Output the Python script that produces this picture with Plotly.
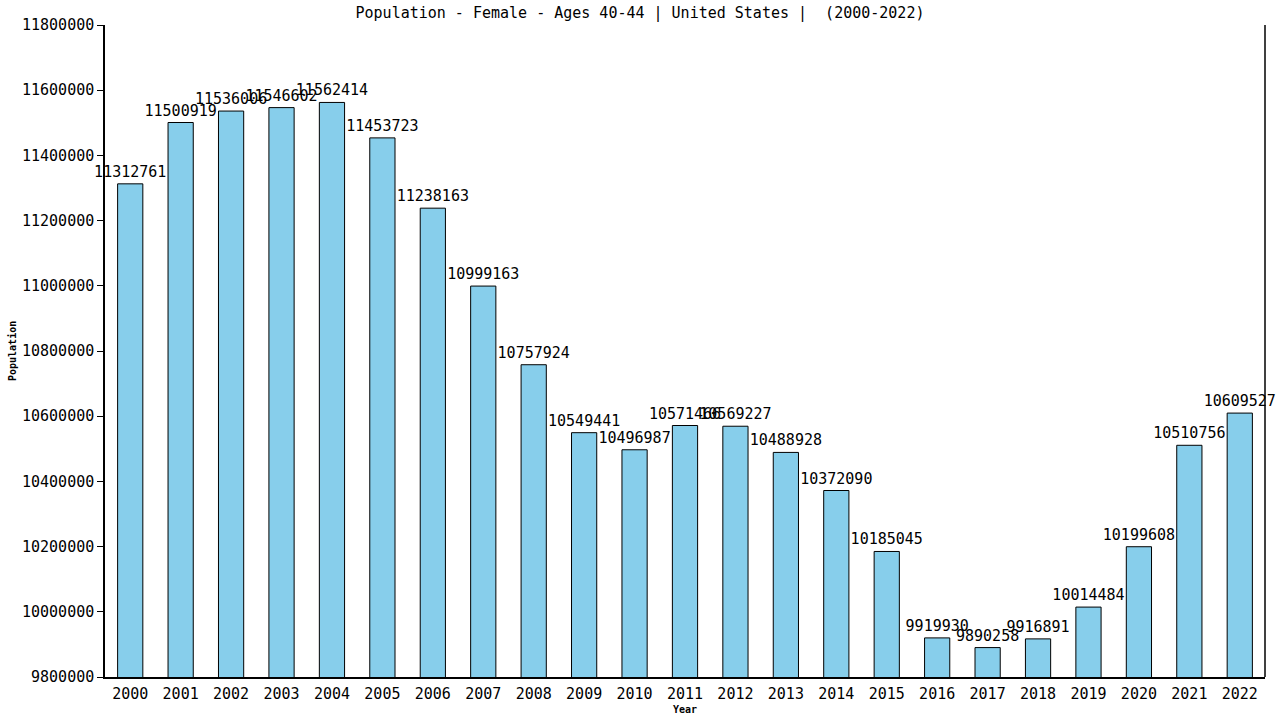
import plotly.graph_objects as go

# data
years = [str(y) for y in range(2000, 2023)]
population = [11312761, 11500919, 11536006, 11546602, 11562414, 11453723,
              11238163, 10999163, 10757924, 10549441, 10496987, 10571466,
              10569227, 10488928, 10372090, 10185045, 9919930, 9890258,
              9916891, 10014484, 10199608, 10510756, 10609527]
y_ticks = list(range(9800000, 11800001, 200000))

font = "DejaVu Sans Mono"

fig = go.Figure(go.Bar(
    x=years, y=population,
    text=[str(v) for v in population],
    textposition="outside", constraintext="none", cliponaxis=False,
    textfont=dict(family=font, size=15, color="black"),
    marker_color="skyblue", marker_line_color="black", marker_line_width=1,
))

fig.update_layout(
    title=dict(text="Population - Female - Ages 40-44 | United States |  (2000-2022)",
               x=0.5, xanchor="center", y=1 - 13 / 720, yanchor="middle",
               font=dict(family=font, size=15, color="black")),
    width=1280, height=720,
    margin=dict(l=105, r=15, t=25, b=43),
    plot_bgcolor="white", paper_bgcolor="white",
    bargap=0.5, showlegend=False,
    font=dict(family=font, color="black"),
)
fig.update_xaxes(showline=True, linecolor="black", linewidth=1.5,
                 ticks="", ticklabelstandoff=2, tickfont=dict(size=15),
                 showgrid=False)
fig.update_yaxes(range=[9800000, 11800000], tickvals=y_ticks,
                 ticktext=[str(t) for t in y_ticks],
                 showline=True, linecolor="black", linewidth=1.5,
                 ticks="outside", ticklen=6, tickcolor="black",
                 tickfont=dict(size=15), showgrid=False, zeroline=False)
# right border line
fig.add_shape(type="line", xref="paper", yref="paper", x0=1, x1=1, y0=0, y1=1,
              line=dict(color="black", width=1.5))
# axis titles
fig.add_annotation(text="<b>Population</b>", xref="paper", yref="paper",
                   x=0, y=0.5, xshift=-93, xanchor="center", yanchor="middle",
                   textangle=-90, showarrow=False,
                   font=dict(family=font, size=10))
fig.add_annotation(text="<b>Year</b>", xref="paper", yref="paper",
                   x=0.5, y=0, yshift=-32, xanchor="center", yanchor="middle",
                   showarrow=False, font=dict(family=font, size=10))

# drop the default page margin so the figure sits at the window corner
fig.write_html("out.html", config={"displayModeBar": False},
               post_script="document.body.style.margin='0';")
